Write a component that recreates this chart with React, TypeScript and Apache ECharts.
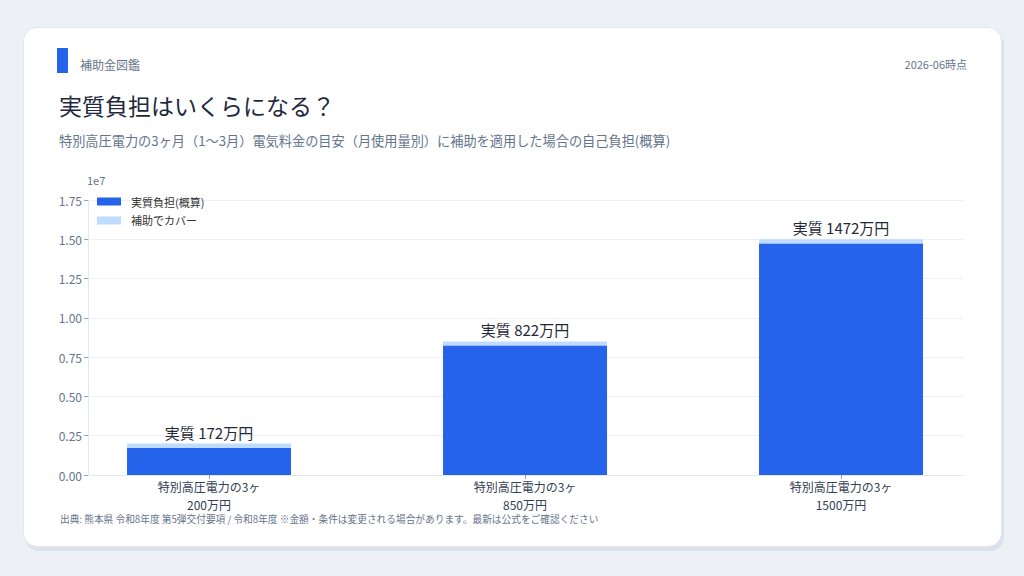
import React, { useEffect, useRef } from 'react'
import * as echarts from 'echarts'

const categories = ['特別高圧電力の3ヶ\n200万円', '特別高圧電力の3ヶ\n850万円', '特別高圧電力の3ヶ\n1500万円']
const totalCost = [2000000, 8500000, 15000000]
const actualCost = [1720000, 8220000, 14720000]
const topLabels = ['実質 172万円', '実質 822万円', '実質 1472万円']
const yTicks = [0, 2500000, 5000000, 7500000, 10000000, 12500000, 15000000, 17500000]

const FONT = "'Noto Sans CJK JP', 'Noto Sans', sans-serif"

const App: React.FC = () => {
  const chartRef = useRef<HTMLDivElement>(null)

  useEffect(() => {
    if (!chartRef.current) return
    const chart = echarts.init(chartRef.current, undefined, { renderer: 'svg' })

    const option: echarts.EChartsOption = {
      animation: false,
      textStyle: { fontFamily: FONT },
      graphic: [
        { type: 'rect', shape: { x: 57, y: 48, width: 11, height: 25 }, style: { fill: '#2563eb' } },
        {
          type: 'text', x: 80, y: 64,
          style: { text: '補助金図鑑', fontSize: 12, fill: '#64748b', fontFamily: FONT, verticalAlign: 'middle' }
        },
        {
          type: 'text', x: 967, y: 64,
          style: { text: '2026-06時点', fontSize: 11, fill: '#64748b', fontFamily: FONT, align: 'right', verticalAlign: 'middle' }
        },
        {
          type: 'text', x: 59, y: 105,
          style: { text: '実質負担はいくらになる？', fontSize: 23, fill: '#1e293b', fontFamily: FONT, verticalAlign: 'middle' }
        },
        {
          type: 'text', x: 59, y: 140,
          style: {
            text: '特別高圧電力の3ヶ月（1〜3月）電気料金の目安（月使用量別）に補助を適用した場合の自己負担(概算)',
            fontSize: 13.2, fill: '#64748b', fontFamily: FONT, verticalAlign: 'middle'
          }
        },
        {
          type: 'text', x: 60, y: 519,
          style: {
            text: '出典: 熊本県 令和8年度 第5弾交付要項 / 令和8年度 ※金額・条件は変更される場合があります。最新は公式をご確認ください',
            fontSize: 9.7, fill: '#64748b', fontFamily: FONT, verticalAlign: 'middle'
          }
        }
      ],
      legend: {
        orient: 'vertical',
        left: 92,
        top: 191,
        itemWidth: 24,
        itemHeight: 8,
        itemGap: 8,
        icon: 'rect',
        textStyle: { fontSize: 11, color: '#333', fontFamily: FONT, padding: [0, 0, 0, 5] },
        data: ['実質負担(概算)', '補助でカバー']
      },
      grid: { left: 88, right: 61, top: 200, bottom: 101, containLabel: false },
      xAxis: {
        type: 'value',
        min: -0.383,
        max: 2.386,
        splitLine: { show: false },
        axisLine: { show: true, onZero: false, lineStyle: { color: '#e2e8f0' } },
        axisTick: { show: true, length: 4, lineStyle: { color: '#94a3b8' }, customValues: [0, 1, 2] },
        axisLabel: {
          customValues: [0, 1, 2],
          formatter: (v: number) => categories[Math.round(v)] ?? '',
          fontSize: 12,
          lineHeight: 17.5,
          color: '#334155',
          margin: 3,
          fontFamily: FONT
        }
      },
      yAxis: {
        type: 'value',
        min: 0,
        max: yTicks[yTicks.length - 1],
        interval: 2500000,
        name: '1e7',
        nameLocation: 'end',
        nameGap: 15,
        nameTextStyle: { fontSize: 11, color: '#64748b', align: 'left', padding: [0, 0, 0, -1] },
        axisLine: { show: true, onZero: false, lineStyle: { color: '#e2e8f0' } },
        axisTick: { show: true, length: 4, lineStyle: { color: '#94a3b8' } },
        axisLabel: {
          formatter: (v: number) => (v / 1e7).toFixed(2),
          fontSize: 12,
          color: '#64748b',
          margin: 6,
          fontFamily: FONT
        },
        splitLine: { show: true, lineStyle: { color: '#eef0f4' } }
      },
      series: [
        {
          name: '補助でカバー',
          type: 'bar',
          barWidth: 164,
          z: 2,
          itemStyle: { color: '#bfdbfe' },
          label: {
            show: true,
            position: 'top',
            distance: 4,
            fontSize: 15,
            color: '#1f2937',
            fontFamily: FONT,
            formatter: (p: any) => topLabels[p.dataIndex]
          },
          data: totalCost.map((v, i) => [i, v])
        },
        {
          name: '実質負担(概算)',
          type: 'bar',
          barWidth: 164,
          barGap: '-100%',
          z: 3,
          itemStyle: { color: '#2563eb' },
          data: actualCost.map((v, i) => [i, v])
        }
      ]
    }

    chart.setOption(option)
    return () => {
      chart.dispose()
    }
  }, [])

  return (
    <div style={{ position: 'fixed', left: 0, top: 0, width: 1024, height: 576, background: '#edf0f5' }}>
      <div
        style={{
          position: 'absolute',
          left: 23,
          top: 27,
          width: 977,
          height: 518,
          background: '#ffffff',
          borderRadius: 14,
          border: '1px solid #e3e8ef',
          boxShadow: '2px 4px 0 #dce2eb'
        }}
      />
      <div ref={chartRef} style={{ position: 'absolute', left: 0, top: 0, width: 1024, height: 576 }} />
    </div>
  )
}

export default App
